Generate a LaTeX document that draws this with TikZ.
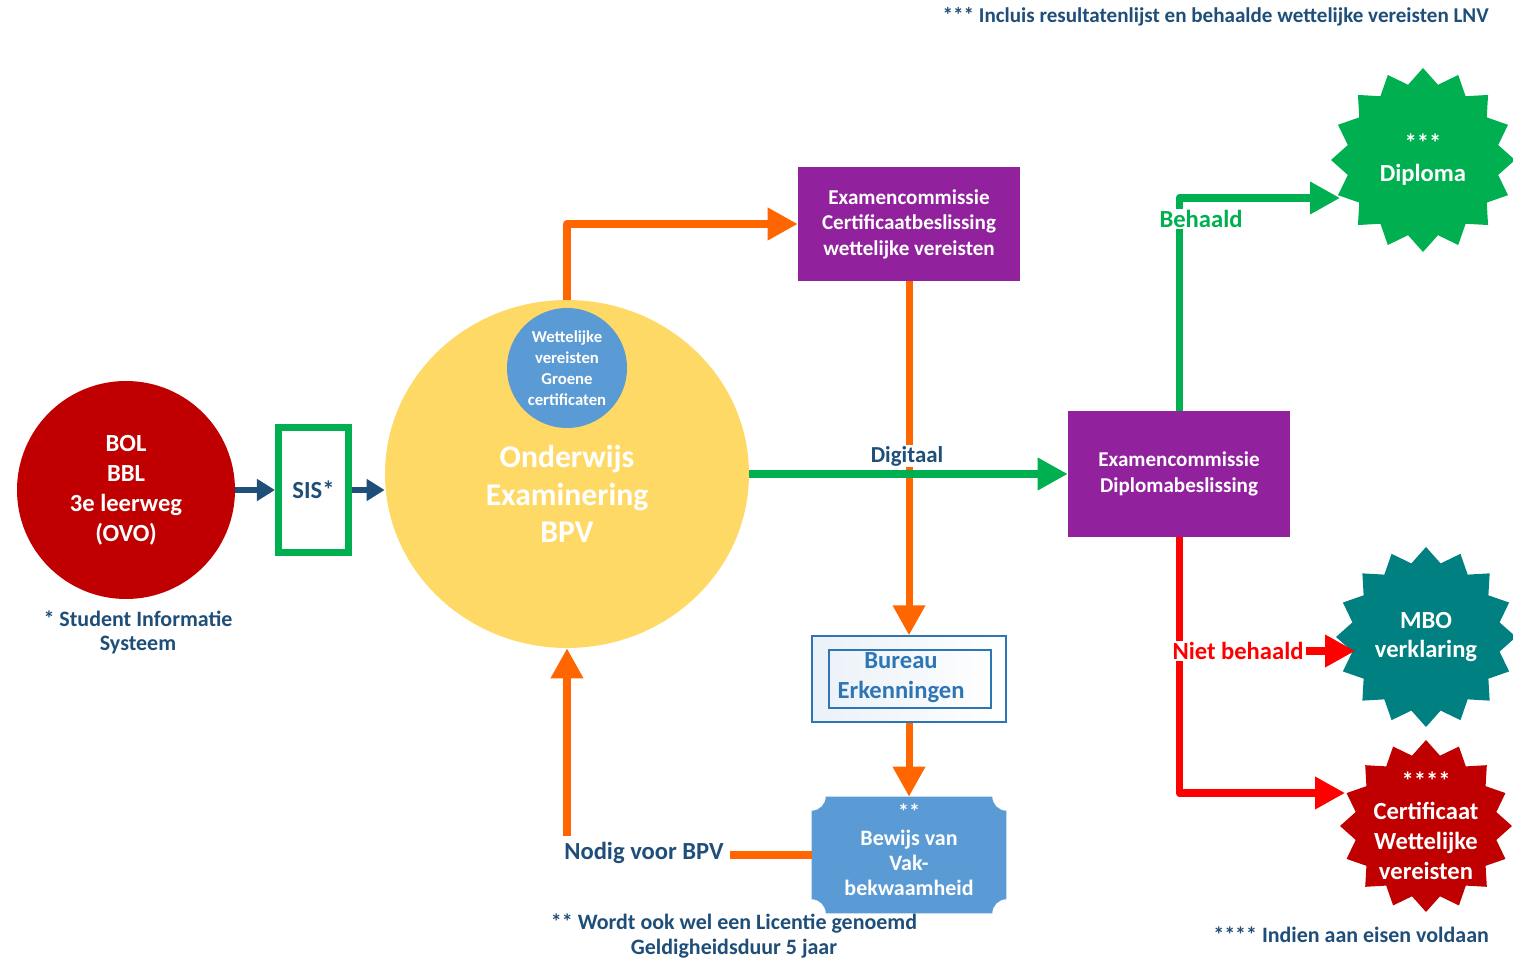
\documentclass[tikz,border=0pt]{standalone}
\usepackage{fontspec}
\setmainfont{Carlito}
\usetikzlibrary{positioning}
\usetikzlibrary{shapes.geometric, arrows.meta}

\definecolor{ovoblue}{RGB}{31,78,121}
\definecolor{ovored}{RGB}{192,0,0}
\definecolor{ovogreen}{RGB}{0,176,80}
\definecolor{ovoyellow}{RGB}{255,217,102}
\definecolor{ovolblue}{RGB}{91,155,213}
\definecolor{ovopurple}{RGB}{146,33,157}
\definecolor{ovoorange}{RGB}{255,102,0}
\definecolor{ovoteal}{RGB}{0,128,128}
\definecolor{ovobright}{RGB}{255,0,0}
\definecolor{ovomid}{RGB}{46,117,182}

\tikzset{
  pbox/.style={fill=ovopurple, text=white, font=\fontsize{12}{14.5}\selectfont\bfseries, align=center, minimum width=4.44cm, inner sep=0pt},
  oline/.style={ovoorange, line width=4pt, line join=round},
  gline/.style={ovogreen, line width=4pt, line join=round},
  rline/.style={ovobright, line width=4pt, line join=round},
  bline/.style={ovoblue, line width=3pt, -{Triangle[length=0.36cm,width=0.42cm]}},
  bigtip/.style={-{Triangle[length=0.6cm,width=0.62cm]}},
  starbox/.style={star, star points=16, star point ratio=1.2, inner sep=0pt, minimum size=#1},
  stxt/.style={text=white, font=\fontsize{14}{17}\selectfont\bfseries, align=center},
  note/.style={text=ovoblue, font=\fontsize{12.5}{14}\selectfont\bfseries, align=center}
}

\begin{document}
\begin{tikzpicture}
\useasboundingbox (0,0) rectangle (30.26,19.2);

\node[note, font=\fontsize{12}{14}\selectfont\bfseries, anchor=east] (lnv) at (29.9,18.86) {*** Incluis resultatenlijst en behaalde wettelijke vereisten LNV};

\node[circle, fill=ovored, minimum size=4.36cm, inner sep=0pt, text=white, font=\fontsize{14}{17}\selectfont\bfseries, align=center] (bol) at (2.52,9.4) {BOL\\BBL\\3e leerweg\\(OVO)};
\node[note] (sisnote) at (2.76,6.55) {* Student Informatie\\Systeem};
\node[draw=ovogreen, line width=4pt, minimum width=1.4cm, minimum height=2.5cm, inner sep=0pt, text=ovoblue, font=\fontsize{14}{17}\selectfont\bfseries] (sis) at (6.27,9.4) {SIS*};

\node[ellipse, fill=ovoyellow, minimum width=7.28cm, minimum height=6.96cm] (ond) at (11.34,9.72) {};
\node[text=white, font=\fontsize{18}{21.5}\selectfont\bfseries, align=center] (ondtxt) at (11.34,9.32) {Onderwijs\\Examinering\\BPV};
\node[circle, fill=ovolblue, minimum size=2.4cm, inner sep=0pt, text=white, font=\fontsize{9.5}{12}\selectfont\bfseries, align=center] (groen) at (11.34,11.84) {Wettelijke\\vereisten\\Groene\\certificaten};

\draw[bline] (bol) -- (sis);
\draw[bline] (sis.east) -- (sis -| ond.west);

\node[pbox, minimum height=2.28cm] (ecert) at (18.18,14.72) {Examencommissie\\Certificaatbeslissing\\wettelijke vereisten};
\node[pbox, minimum height=2.52cm] (ediplo) at (23.58,9.72) {Examencommissie\\Diplomabeslissing};

\node[draw=ovomid, line width=0.8pt, minimum width=3.88cm, minimum height=1.72cm, left color=ovomid!10, right color=white] (bureau) at (18.18,5.62) {};
\node[draw=ovomid, line width=0.8pt, minimum width=3.24cm, minimum height=1.16cm] (bureauin) at (18.2,5.62) {};
\node[text=ovomid, font=\fontsize{14}{17}\selectfont\bfseries, align=center] (bureautxt) at (18.02,5.64) {Bureau\\Erkenningen};

\node[minimum width=3.88cm, minimum height=2.32cm, inner sep=0pt] (bewijs) at (18.18,2.1) {};
\fill[ovolblue] ([xshift=8pt]bewijs.north west) -- ([xshift=-8pt]bewijs.north east)
  arc[start angle=180, end angle=270, radius=8pt] -- ([yshift=8pt]bewijs.south east)
  arc[start angle=90, end angle=180, radius=8pt] -- ([xshift=8pt]bewijs.south west)
  arc[start angle=0, end angle=90, radius=8pt] -- ([yshift=-8pt]bewijs.north west)
  arc[start angle=270, end angle=360, radius=8pt] -- cycle;
\node[text=white, font=\fontsize{12.5}{14.5}\selectfont\bfseries, align=center] (bewijstxt) at (18.18,2.2) {**\\Bewijs van\\Vak-\\bekwaamheid};
\node[text=ovoblue, font=\fontsize{14}{17}\selectfont\bfseries] (nodig) at (12.88,2.14) {Nodig voor BPV};
\node[note] (licnote) at (14.68,0.48) {** Wordt ook wel een Licentie genoemd\\Geldigheidsduur 5 jaar};

\node[starbox=3.68cm, fill=ovogreen] (dipl) at (28.46,16.0) {};
\node[stxt] (dipltxt) at (dipl) {***\\Diploma};
\node[starbox=3.6cm, fill=ovoteal] (mbo) at (28.52,6.46) {};
\node[stxt] (mbotxt) at (mbo) {MBO\\verklaring};
\node[starbox=3.44cm, fill=ovored] (cert) at (28.52,2.68) {};
\node[stxt] (certtxt) at (cert) {****\\Certificaat\\Wettelijke\\vereisten};
\node[note, anchor=east] (eisnote) at (29.9,0.5) {**** Indien aan eisen voldaan};

\coordinate (diplin) at (26.8,15.24);
\coordinate (mboin) at (27.1,6.18);
\coordinate (certin) at (26.9,3.34);

\draw[oline, bigtip] (ond.north) |- (ecert.west);
\draw[oline, bigtip] (ecert.south) -- (bureau.north);
\draw[oline, bigtip] (bureau.south) -- (bewijs.north);
\draw[oline] (bewijs.west) -- (bewijs.west -| nodig.east);
\draw[oline, bigtip] (nodig.north -| ond.south) -- (ond.south);

\draw[gline, bigtip] (ond.east) -- (ediplo.west);
\node[fill=white, text=ovoblue, font=\fontsize{13}{15}\selectfont\bfseries, inner sep=0.5pt] (digi) at (18.14,10.08) {Digitaal};

\draw[gline, bigtip] (ediplo.north) |- (diplin);
\node[fill=white, text=ovogreen, font=\fontsize{14}{17}\selectfont\bfseries, inner sep=1pt] (behaald) at (24.02,14.82) {Behaald};

\draw[rline, bigtip] (ediplo.south) |- (certin);
\node[fill=white, text=ovobright, font=\fontsize{14}{17}\selectfont\bfseries, inner sep=1pt] (niet) at (24.76,6.18) {Niet behaald};
\draw[rline, bigtip] (niet.east) -- (mboin);

\end{tikzpicture}
\end{document}
